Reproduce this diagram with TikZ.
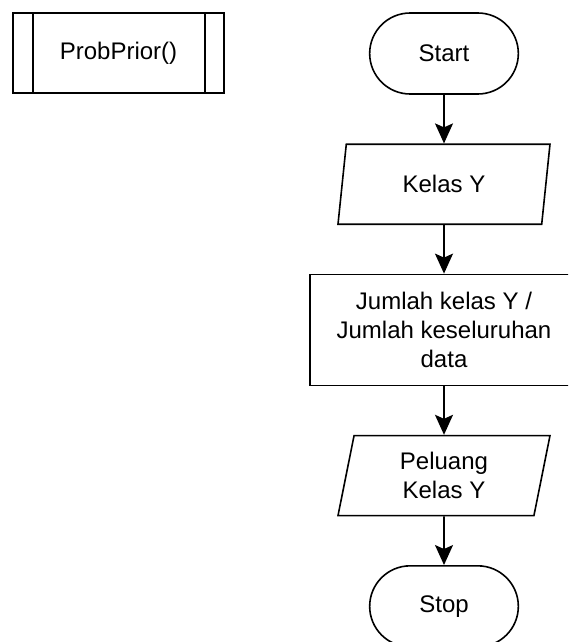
\documentclass[tikz,border=0pt]{standalone}
\usepackage{fontspec}
\setmainfont{Liberation Sans}
\usetikzlibrary{arrows.meta,positioning,shapes.geometric,shapes.misc}

\begin{document}
\begin{tikzpicture}[
		line width=0.8pt,
		font=\fontsize{12}{14.5}\selectfont,
		node distance=24.3pt,
		terminal/.style={draw, rounded rectangle, minimum width=81pt, minimum height=40.5pt},
		iobox/.style={draw, trapezium, trapezium left angle=75, trapezium right angle=105,
			trapezium stretches body, minimum width=106pt, minimum height=40pt, align=center},
		procbox/.style={draw, rectangle, minimum width=134pt, minimum height=55.5pt, align=center},
		flow/.style={-{Stealth[length=10pt, width=9pt, inset=2pt]}}
	]

		\useasboundingbox (0,0) rectangle (284pt,-321pt);
		\clip (0,0) rectangle (284pt,-321pt);

		% subprocess header
		\node[draw, minimum width=105.5pt, minimum height=40pt] (sub) at (59.25pt,-26.5pt) {ProbPrior()};
		\draw ([xshift=10.5pt]sub.north west) -- ([xshift=10.5pt]sub.south west);
		\draw ([xshift=-10pt]sub.north east) -- ([xshift=-10pt]sub.south east);

		% main flow
		\node[terminal] (start) at (222pt,-26.75pt) {Start};
		\node[iobox, below=of start] (kelas) {Kelas Y};
		\node[procbox, below=of kelas] (hitung) {Jumlah kelas Y /\\Jumlah keseluruhan\\data};
		\node[iobox, below=of hitung] (peluang) {Peluang\\Kelas Y};
		\node[terminal, below=of peluang] (stop) {Stop};

		\draw[flow] (start) -- (kelas);
		\draw[flow] (kelas) -- (hitung);
		\draw[flow] (hitung) -- (peluang);
		\draw[flow] (peluang) -- (stop);

	\end{tikzpicture}
\end{document}
